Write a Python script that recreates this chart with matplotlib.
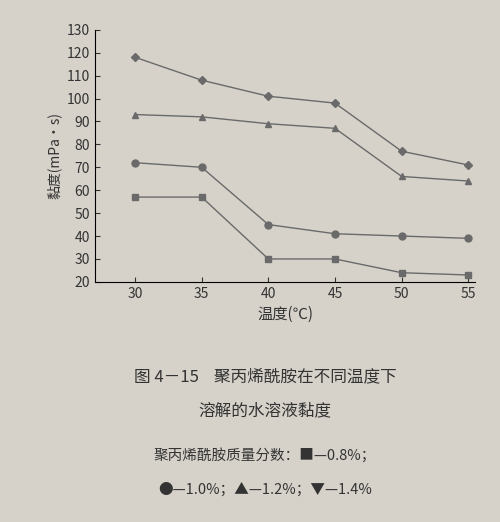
import matplotlib
matplotlib.use('Agg')
import matplotlib.pyplot as plt

plt.rcParams['font.family'] = ['Noto Sans CJK SC', 'DejaVu Sans']

temps = [30, 35, 40, 45, 50, 55]
v_08 = [57, 57, 30, 30, 24, 23]
v_10 = [72, 70, 45, 41, 40, 39]
v_12 = [93, 92, 89, 87, 66, 64]
v_14 = [118, 108, 101, 98, 77, 71]

bg = '#d6d2ca'
fig = plt.figure(figsize=(5, 5.22), dpi=100, facecolor=bg)
ax = fig.add_axes([0.19, 0.46, 0.76, 0.483], facecolor=bg)

line_c = '#6a6a6a'
ax.plot(temps, v_14, marker='D', color=line_c, markersize=4, lw=1)
ax.plot(temps, v_12, marker='^', color=line_c, markersize=5, lw=1)
ax.plot(temps, v_10, marker='o', color=line_c, markersize=5, lw=1)
ax.plot(temps, v_08, marker='s', color=line_c, markersize=5, lw=1)

ax.set_xlim(27, 55.5)
ax.set_ylim(20, 130)
ax.set_xticks(temps)
ax.set_yticks(range(20, 131, 10))
ax.tick_params(labelsize=10, colors='#333333', direction='in')
for s in ['top', 'right']:
    ax.spines[s].set_visible(False)
ax.set_ylabel('黏度(mPa·s)', fontsize=10, color='#333333')
ax.set_xlabel('温度(℃)', fontsize=11, color='#333333')

tc = '#333333'
fig.text(0.53, 0.27, '图 4－15    聚丙烯酰胺在不同温度下', ha='center', fontsize=12, color=tc)
fig.text(0.53, 0.205, '溶解的水溶液黏度', ha='center', fontsize=12, color=tc)
fig.text(0.53, 0.12, '聚丙烯酰胺质量分数：■—0.8%；', ha='center', fontsize=10.5, color=tc)
fig.text(0.53, 0.055, '●—1.0%；▲—1.2%；▼—1.4%', ha='center', fontsize=10.5, color=tc)

fig.savefig('out.png', dpi=100, facecolor=bg)
